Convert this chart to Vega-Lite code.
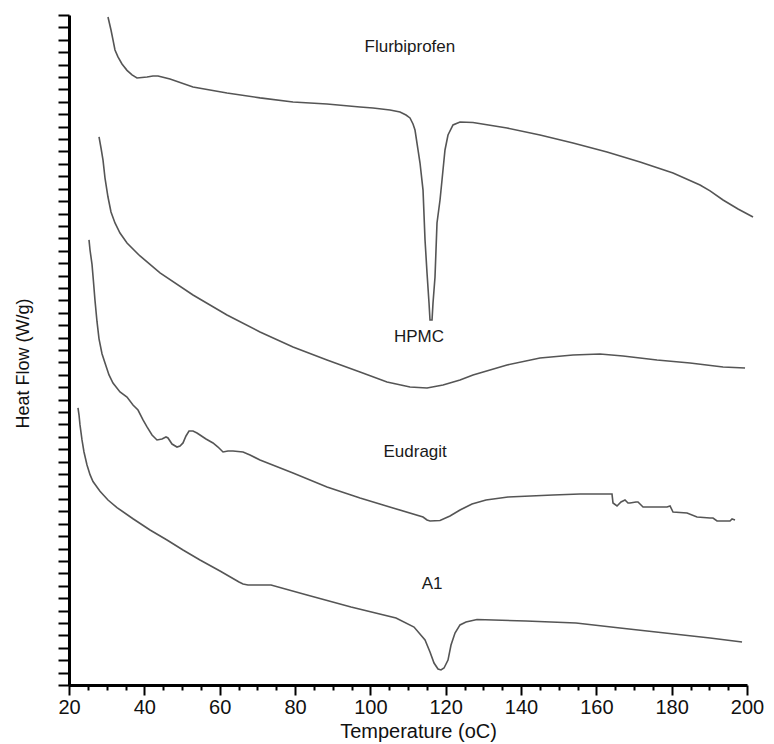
{
  "$schema": "https://vega.github.io/schema/vega-lite/v6.json",
  "autosize": {"type": "none"},
  "width": 678,
  "height": 670,
  "padding": {"left": 69, "top": 15, "right": 27, "bottom": 59},
  "background": "white",
  "config": {"view": {"stroke": null}, "font": "Liberation Sans"},
  "datasets": {
    "curves": [
      {"s":"Flurbiprofen","T":30.35,"H":53.84},{"s":"Flurbiprofen","T":31.15,"H":52.79},{"s":"Flurbiprofen","T":31.68,"H":51.99},{"s":"Flurbiprofen","T":32.21,"H":51.18},{"s":"Flurbiprofen","T":33.0,"H":50.62},{"s":"Flurbiprofen","T":34.07,"H":50.05},{"s":"Flurbiprofen","T":35.4,"H":49.54},{"s":"Flurbiprofen","T":36.73,"H":49.17},{"s":"Flurbiprofen","T":38.05,"H":48.92},{"s":"Flurbiprofen","T":39.38,"H":48.96},{"s":"Flurbiprofen","T":40.71,"H":49.0},{"s":"Flurbiprofen","T":42.3,"H":49.08},{"s":"Flurbiprofen","T":43.63,"H":49.08},{"s":"Flurbiprofen","T":45.22,"H":48.96},{"s":"Flurbiprofen","T":46.82,"H":48.84},{"s":"Flurbiprofen","T":52.92,"H":48.2},{"s":"Flurbiprofen","T":61.95,"H":47.72},{"s":"Flurbiprofen","T":70.71,"H":47.32},{"s":"Flurbiprofen","T":79.47,"H":46.99},{"s":"Flurbiprofen","T":88.5,"H":46.83},{"s":"Flurbiprofen","T":97.26,"H":46.59},{"s":"Flurbiprofen","T":100.71,"H":46.51},{"s":"Flurbiprofen","T":105.22,"H":46.35},{"s":"Flurbiprofen","T":107.88,"H":46.18},{"s":"Flurbiprofen","T":109.47,"H":45.94},{"s":"Flurbiprofen","T":110.53,"H":45.7},{"s":"Flurbiprofen","T":111.33,"H":45.22},{"s":"Flurbiprofen","T":111.86,"H":44.73},{"s":"Flurbiprofen","T":112.66,"H":43.12},{"s":"Flurbiprofen","T":113.19,"H":42.07},{"s":"Flurbiprofen","T":113.99,"H":39.89},{"s":"Flurbiprofen","T":114.52,"H":35.87},{"s":"Flurbiprofen","T":115.05,"H":33.21},{"s":"Flurbiprofen","T":115.58,"H":30.79},{"s":"Flurbiprofen","T":115.84,"H":29.42},{"s":"Flurbiprofen","T":116.38,"H":29.42},{"s":"Flurbiprofen","T":116.64,"H":30.79},{"s":"Flurbiprofen","T":117.17,"H":32.88},{"s":"Flurbiprofen","T":117.7,"H":37.24},{"s":"Flurbiprofen","T":118.5,"H":39.09},{"s":"Flurbiprofen","T":119.03,"H":40.7},{"s":"Flurbiprofen","T":119.82,"H":43.12},{"s":"Flurbiprofen","T":120.62,"H":44.33},{"s":"Flurbiprofen","T":121.95,"H":45.14},{"s":"Flurbiprofen","T":123.81,"H":45.38},{"s":"Flurbiprofen","T":127.26,"H":45.34},{"s":"Flurbiprofen","T":136.29,"H":44.89},{"s":"Flurbiprofen","T":145.05,"H":44.33},{"s":"Flurbiprofen","T":153.81,"H":43.69},{"s":"Flurbiprofen","T":162.83,"H":42.96},{"s":"Flurbiprofen","T":171.6,"H":42.15},{"s":"Flurbiprofen","T":180.36,"H":41.27},{"s":"Flurbiprofen","T":187.53,"H":40.3},{"s":"Flurbiprofen","T":190.19,"H":39.82},{"s":"Flurbiprofen","T":193.64,"H":39.09},{"s":"Flurbiprofen","T":197.62,"H":38.36},{"s":"Flurbiprofen","T":201.6,"H":37.72},
      {"s":"HPMC","T":27.97,"H":44.17},{"s":"HPMC","T":28.5,"H":43.28},{"s":"HPMC","T":29.03,"H":42.31},{"s":"HPMC","T":29.56,"H":40.86},{"s":"HPMC","T":30.35,"H":39.33},{"s":"HPMC","T":31.15,"H":38.12},{"s":"HPMC","T":32.21,"H":37.24},{"s":"HPMC","T":33.54,"H":36.43},{"s":"HPMC","T":35.4,"H":35.62},{"s":"HPMC","T":38.85,"H":34.58},{"s":"HPMC","T":44.16,"H":33.21},{"s":"HPMC","T":52.92,"H":31.43},{"s":"HPMC","T":61.95,"H":29.82},{"s":"HPMC","T":70.71,"H":28.45},{"s":"HPMC","T":79.47,"H":27.24},{"s":"HPMC","T":88.5,"H":26.19},{"s":"HPMC","T":97.26,"H":25.23},{"s":"HPMC","T":104.43,"H":24.42},{"s":"HPMC","T":110.53,"H":24.02},{"s":"HPMC","T":115.05,"H":23.94},{"s":"HPMC","T":119.3,"H":24.18},{"s":"HPMC","T":123.81,"H":24.58},{"s":"HPMC","T":127.26,"H":24.99},{"s":"HPMC","T":136.29,"H":25.79},{"s":"HPMC","T":145.05,"H":26.36},{"s":"HPMC","T":153.81,"H":26.6},{"s":"HPMC","T":160.97,"H":26.68},{"s":"HPMC","T":167.09,"H":26.52},{"s":"HPMC","T":176.11,"H":26.19},{"s":"HPMC","T":184.88,"H":25.95},{"s":"HPMC","T":193.64,"H":25.63},{"s":"HPMC","T":199.48,"H":25.55},
      {"s":"Eudragit","T":25.31,"H":35.87},{"s":"Eudragit","T":25.58,"H":35.06},{"s":"Eudragit","T":26.11,"H":33.9},{"s":"Eudragit","T":26.5,"H":32.5},{"s":"Eudragit","T":26.9,"H":31.0},{"s":"Eudragit","T":27.43,"H":29.3},{"s":"Eudragit","T":27.97,"H":27.9},{"s":"Eudragit","T":28.76,"H":26.7},{"s":"Eudragit","T":29.56,"H":25.95},{"s":"Eudragit","T":30.62,"H":24.99},{"s":"Eudragit","T":31.68,"H":24.34},{"s":"Eudragit","T":33.54,"H":23.62},{"s":"Eudragit","T":35.4,"H":23.21},{"s":"Eudragit","T":36.99,"H":22.57},{"s":"Eudragit","T":38.32,"H":22.16},{"s":"Eudragit","T":39.65,"H":21.36},{"s":"Eudragit","T":40.71,"H":20.8},{"s":"Eudragit","T":42.04,"H":20.15},{"s":"Eudragit","T":43.36,"H":19.75},{"s":"Eudragit","T":44.69,"H":19.83},{"s":"Eudragit","T":45.75,"H":19.99},{"s":"Eudragit","T":46.28,"H":19.91},{"s":"Eudragit","T":47.35,"H":19.42},{"s":"Eudragit","T":48.67,"H":19.18},{"s":"Eudragit","T":49.47,"H":19.26},{"s":"Eudragit","T":50.27,"H":19.51},{"s":"Eudragit","T":51.06,"H":20.07},{"s":"Eudragit","T":51.86,"H":20.47},{"s":"Eudragit","T":52.92,"H":20.47},{"s":"Eudragit","T":53.98,"H":20.31},{"s":"Eudragit","T":54.78,"H":20.15},{"s":"Eudragit","T":56.37,"H":19.83},{"s":"Eudragit","T":58.23,"H":19.51},{"s":"Eudragit","T":59.56,"H":19.18},{"s":"Eudragit","T":60.89,"H":18.78},{"s":"Eudragit","T":62.21,"H":18.86},{"s":"Eudragit","T":63.54,"H":18.86},{"s":"Eudragit","T":66.2,"H":18.78},{"s":"Eudragit","T":68.06,"H":18.54},{"s":"Eudragit","T":70.71,"H":18.13},{"s":"Eudragit","T":79.47,"H":17.09},{"s":"Eudragit","T":88.5,"H":15.96},{"s":"Eudragit","T":97.26,"H":15.07},{"s":"Eudragit","T":106.02,"H":14.27},{"s":"Eudragit","T":113.99,"H":13.54},{"s":"Eudragit","T":115.05,"H":13.3},{"s":"Eudragit","T":115.84,"H":13.22},{"s":"Eudragit","T":118.5,"H":13.26},{"s":"Eudragit","T":121.15,"H":13.62},{"s":"Eudragit","T":123.81,"H":14.1},{"s":"Eudragit","T":126.99,"H":14.59},{"s":"Eudragit","T":130.71,"H":14.91},{"s":"Eudragit","T":136.55,"H":15.15},{"s":"Eudragit","T":148.5,"H":15.31},{"s":"Eudragit","T":155.67,"H":15.39},{"s":"Eudragit","T":164.16,"H":15.39},{"s":"Eudragit","T":164.43,"H":14.67},{"s":"Eudragit","T":165.49,"H":14.43},{"s":"Eudragit","T":166.55,"H":14.75},{"s":"Eudragit","T":167.61,"H":14.91},{"s":"Eudragit","T":168.41,"H":14.67},{"s":"Eudragit","T":168.94,"H":14.67},{"s":"Eudragit","T":170.53,"H":14.75},{"s":"Eudragit","T":171.06,"H":14.75},{"s":"Eudragit","T":172.4,"H":14.35},{"s":"Eudragit","T":178.77,"H":14.35},{"s":"Eudragit","T":179.57,"H":14.43},{"s":"Eudragit","T":180.36,"H":13.94},{"s":"Eudragit","T":184.08,"H":13.86},{"s":"Eudragit","T":186.73,"H":13.54},{"s":"Eudragit","T":190.19,"H":13.46},{"s":"Eudragit","T":190.98,"H":13.46},{"s":"Eudragit","T":192.04,"H":13.22},{"s":"Eudragit","T":195.49,"H":13.22},{"s":"Eudragit","T":196.03,"H":13.38},{"s":"Eudragit","T":196.82,"H":13.3},
      {"s":"A1","T":22.39,"H":22.33},{"s":"A1","T":22.66,"H":21.76},{"s":"A1","T":22.92,"H":20.96},{"s":"A1","T":23.45,"H":19.75},{"s":"A1","T":23.98,"H":18.78},{"s":"A1","T":24.78,"H":17.73},{"s":"A1","T":25.58,"H":16.95},{"s":"A1","T":26.37,"H":16.4},{"s":"A1","T":28.23,"H":15.62},{"s":"A1","T":30.35,"H":14.91},{"s":"A1","T":32.74,"H":14.3},{"s":"A1","T":36.99,"H":13.4},{"s":"A1","T":41.51,"H":12.49},{"s":"A1","T":46.02,"H":11.69},{"s":"A1","T":50.27,"H":10.88},{"s":"A1","T":54.78,"H":10.07},{"s":"A1","T":60.09,"H":9.19},{"s":"A1","T":65.14,"H":8.3},{"s":"A1","T":66.2,"H":8.14},{"s":"A1","T":67.52,"H":8.06},{"s":"A1","T":73.63,"H":8.06},{"s":"A1","T":83.19,"H":7.25},{"s":"A1","T":94.87,"H":6.29},{"s":"A1","T":106.82,"H":5.4},{"s":"A1","T":111.6,"H":4.67},{"s":"A1","T":114.52,"H":3.63},{"s":"A1","T":115.84,"H":2.66},{"s":"A1","T":116.91,"H":1.77},{"s":"A1","T":117.97,"H":1.29},{"s":"A1","T":118.76,"H":1.21},{"s":"A1","T":119.56,"H":1.37},{"s":"A1","T":120.62,"H":2.01},{"s":"A1","T":121.42,"H":3.22},{"s":"A1","T":122.48,"H":4.19},{"s":"A1","T":123.81,"H":4.84},{"s":"A1","T":125.4,"H":5.08},{"s":"A1","T":128.32,"H":5.28},{"s":"A1","T":141.33,"H":5.16},{"s":"A1","T":154.61,"H":5.0},{"s":"A1","T":166.29,"H":4.59},{"s":"A1","T":178.24,"H":4.19},{"s":"A1","T":190.19,"H":3.79},{"s":"A1","T":198.68,"H":3.47}
    ],
    "labels": [
      {"label":"Flurbiprofen","T":110.5,"H":51.42},
      {"label":"HPMC","T":112.9,"H":28.05},
      {"label":"Eudragit","T":111.9,"H":18.78},
      {"label":"A1","T":116.4,"H":8.14}
    ]
  },
  "encoding": {
    "x": {
      "field": "T", "type": "quantitative",
      "scale": {"domain": [20, 200], "nice": false},
      "axis": {
        "title": "Temperature (oC)",
        "values": [20,25,30,35,40,45,50,55,60,65,70,75,80,85,90,95,100,105,110,115,120,125,130,135,140,145,150,155,160,165,170,175,180,185,190,195,200],
        "labelExpr": "datum.value % 20 === 0 ? datum.label : ''",
        "labelOverlap": false,
        "labelFlush": false,
        "tickSize": {"condition": {"test": "datum.value % 20 === 0", "value": 10}, "value": 5},
        "tickWidth": 2,
        "tickColor": "black",
        "domainColor": "black",
        "domainWidth": 3,
        "grid": false,
        "labelFontSize": 20,
        "labelColor": "#111111",
        "labelPadding": 2,
        "titleFontSize": 20,
        "titleFontWeight": "normal",
        "titleColor": "#111111",
        "titlePadding": 4,
        "titleX": 349
      }
    },
    "y": {
      "field": "H", "type": "quantitative",
      "scale": {"domain": [0, 54], "nice": false},
      "axis": {
        "title": "Heat Flow (W/g)",
        "values": [0,1,2,3,4,5,6,7,8,9,10,11,12,13,14,15,16,17,18,19,20,21,22,23,24,25,26,27,28,29,30,31,32,33,34,35,36,37,38,39,40,41,42,43,44,45,46,47,48,49,50,51,52,53,54],
        "labels": false,
        "tickSize": 11,
        "tickWidth": 2,
        "tickColor": "black",
        "domainColor": "black",
        "domainWidth": 3,
        "grid": false,
        "titleFontSize": 18,
        "titleFontWeight": "normal",
        "titleColor": "#111111",
        "titlePadding": 25,
        "titleY": 348
      }
    }
  },
  "layer": [
    {
      "data": {"name": "curves"},
      "mark": {"type": "line", "color": "#555555", "strokeWidth": 1.6},
      "encoding": {"detail": {"field": "s"}}
    },
    {
      "data": {"name": "labels"},
      "mark": {"type": "text", "fontSize": 17, "color": "#1a1a1a", "font": "Liberation Sans"},
      "encoding": {"text": {"field": "label"}}
    }
  ]
}
